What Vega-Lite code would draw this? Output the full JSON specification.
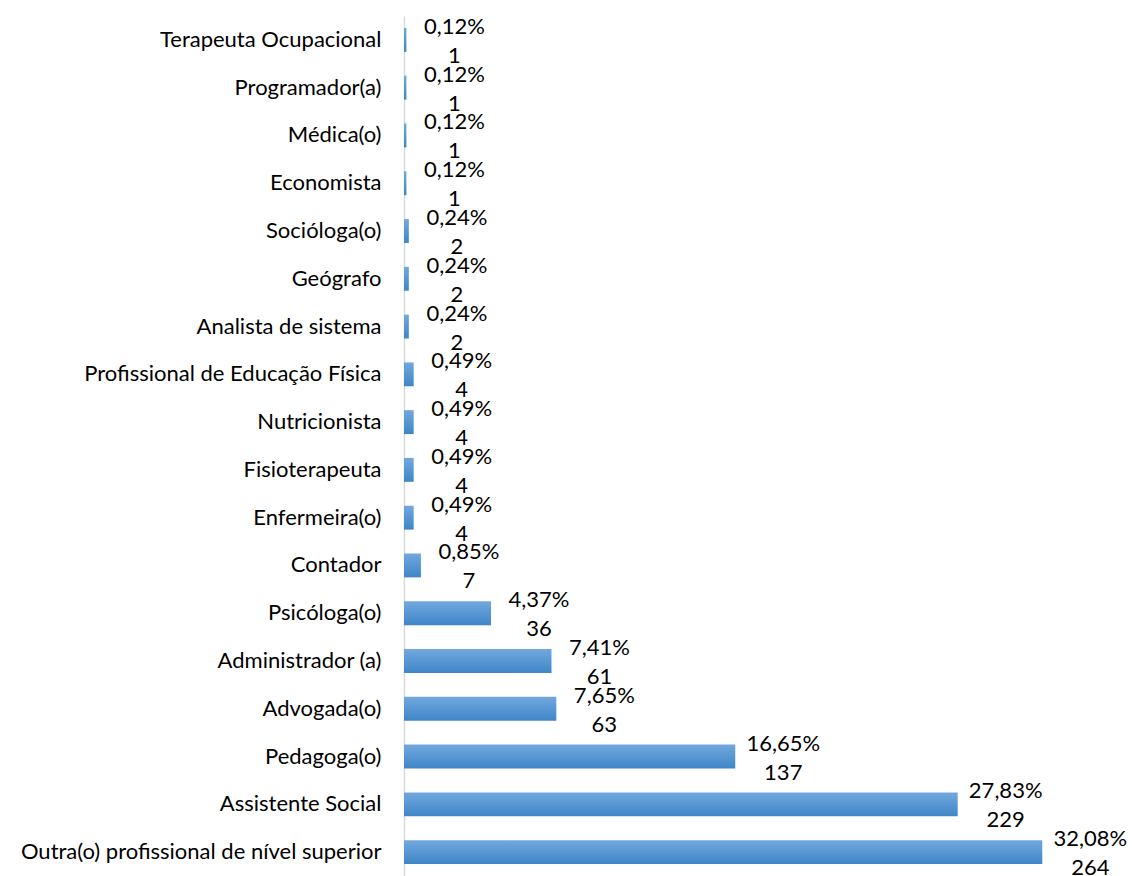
{
  "$schema": "https://vega.github.io/schema/vega-lite/v6.json",
  "autosize": {"type": "none"},
  "padding": {"left": 404, "top": 16, "right": 51, "bottom": 0},
  "width": 677,
  "height": 860,
  "background": "white",
  "data": {"values": [
    {"cat": "Terapeuta Ocupacional", "n": 1, "pct": "0,12%"},
    {"cat": "Programador(a)", "n": 1, "pct": "0,12%"},
    {"cat": "Médica(o)", "n": 1, "pct": "0,12%"},
    {"cat": "Economista", "n": 1, "pct": "0,12%"},
    {"cat": "Socióloga(o)", "n": 2, "pct": "0,24%"},
    {"cat": "Geógrafo", "n": 2, "pct": "0,24%"},
    {"cat": "Analista de sistema", "n": 2, "pct": "0,24%"},
    {"cat": "Profissional de Educação Física", "n": 4, "pct": "0,49%"},
    {"cat": "Nutricionista", "n": 4, "pct": "0,49%"},
    {"cat": "Fisioterapeuta", "n": 4, "pct": "0,49%"},
    {"cat": "Enfermeira(o)", "n": 4, "pct": "0,49%"},
    {"cat": "Contador", "n": 7, "pct": "0,85%"},
    {"cat": "Psicóloga(o)", "n": 36, "pct": "4,37%"},
    {"cat": "Administrador (a)", "n": 61, "pct": "7,41%"},
    {"cat": "Advogada(o)", "n": 63, "pct": "7,65%"},
    {"cat": "Pedagoga(o)", "n": 137, "pct": "16,65%"},
    {"cat": "Assistente Social", "n": 229, "pct": "27,83%"},
    {"cat": "Outra(o) profissional de nível superior", "n": 264, "pct": "32,08%"}
  ]},
  "encoding": {
    "y": {"field": "cat", "type": "nominal", "sort": null,
      "scale": {"paddingInner": 0.5, "paddingOuter": 0.25},
      "axis": {"title": null, "ticks": false, "domainColor": "#d9d9d9", "domainWidth": 1.5,
        "labelFont": "Lato", "labelFontSize": 22, "labelColor": "#000000", "labelPadding": 23, "labelLimit": 500}},
    "x": {"field": "n", "type": "quantitative", "scale": {"domain": [0, 280], "nice": false}, "axis": null}
  },
  "layer": [
    {"mark": {"type": "bar", "fill": {"gradient": "linear", "x1": 0, "y1": 0, "x2": 0, "y2": 1,
      "stops": [{"offset": 0, "color": "#72a8de"}, {"offset": 1, "color": "#3f86c8"}]}}},
    {"mark": {"type": "text", "align": "center", "baseline": "middle", "dx": 48, "dy": -13,
      "font": "Lato", "fontSize": 22, "color": "#000000"},
      "encoding": {"text": {"field": "pct"}}},
    {"mark": {"type": "text", "align": "center", "baseline": "middle", "dx": 48, "dy": 16,
      "font": "Lato", "fontSize": 22, "color": "#000000"},
      "encoding": {"text": {"field": "n", "type": "quantitative"}}}
  ],
  "config": {"view": {"stroke": null}}
}
